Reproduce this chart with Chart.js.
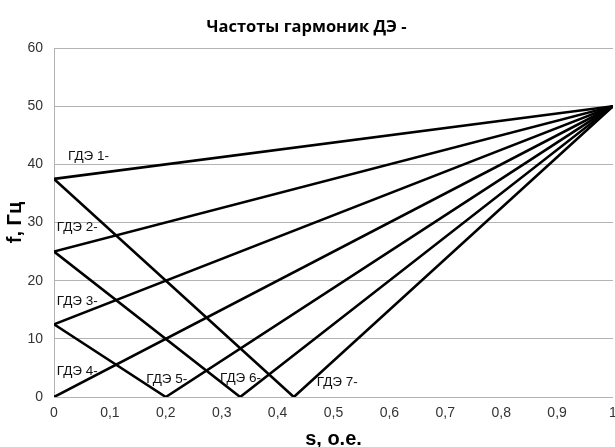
<!DOCTYPE html>
<html>
<head>
<meta charset="utf-8">
<title>Частоты гармоник ДЭ</title>
<script src="https://cdn.jsdelivr.net/npm/chart.js@4.4.1/dist/chart.umd.min.js"></script>
<style>
  body { margin: 0; background: #fff; }
  canvas { display: block; }
</style>
</head>
<body>
<canvas id="myChart" width="615" height="447"></canvas>
<script>
/* Data: slip s (o.e.) and frequency f (Hz) for each harmonic */
const seriesNames = ['ГДЭ 1-', 'ГДЭ 2-', 'ГДЭ 3-', 'ГДЭ 4-', 'ГДЭ 5-', 'ГДЭ 6-', 'ГДЭ 7-'];

const g1S = [0, 1];        const g1F = [37.5, 50];
const g2S = [0, 1];        const g2F = [25, 50];
const g3S = [0, 1];        const g3F = [12.5, 50];
const g4S = [0, 1];        const g4F = [0, 50];
const g5S = [0, 0.2, 1];   const g5F = [12.5, 0, 50];
const g6S = [0, 0.333, 1]; const g6F = [25, 0, 50];
const g7S = [0, 0.429, 1]; const g7F = [37.5, 0, 50];

// where the series names sit (data units)
const labelS = [0.025, 0.005, 0.005, 0.005, 0.165, 0.297, 0.47];
const labelF = [41.3, 29.1, 16.5, 4.5, 3.1, 3.3, 2.6];

const yTicks = [0, 10, 20, 30, 40, 50, 60];
const xTicks = [0, 0.1, 0.2, 0.3, 0.4, 0.5, 0.6, 0.7, 0.8, 0.9, 1];

const allS = [g1S, g2S, g3S, g4S, g5S, g6S, g7S];
const allF = [g1F, g2F, g3F, g4F, g5F, g6F, g7F];

const datasets = seriesNames.map(function (name, i) {
  return {
    label: name,
    data: allS[i].map(function (s, j) { return { x: s, y: allF[i][j] }; }),
    showLine: true,
    borderColor: '#000',
    backgroundColor: '#000',
    borderWidth: 2.6,
    pointRadius: 0,
    tension: 0
  };
});

// series name labels drawn inside the plot
const seriesLabels = {
  id: 'seriesLabels',
  afterDatasetsDraw(chart) {
    const ctx = chart.ctx;
    const xs = chart.scales.x;
    const ys = chart.scales.y;
    ctx.save();
    ctx.font = '13.5px "Liberation Sans", Arial, sans-serif';
    ctx.fillStyle = '#111';
    ctx.textAlign = 'left';
    ctx.textBaseline = 'middle';
    seriesNames.forEach(function (name, i) {
      ctx.fillText(name, xs.getPixelForValue(labelS[i]), ys.getPixelForValue(labelF[i]));
    });
    ctx.restore();
  }
};

const tickFont = { family: '"Liberation Sans", Arial, sans-serif', size: 14 };

const ctx = document.getElementById('myChart').getContext('2d');

// eslint-disable-next-line no-undef
const chart = new Chart(ctx, {
  type: 'scatter',
  data: { datasets: datasets },
  options: {
    responsive: false,
    animation: false,
    devicePixelRatio: 1,
    layout: { padding: { left: 0, right: 2, top: 0, bottom: 0 } },
    plugins: {
      legend: { display: false },
      tooltip: { enabled: false },
      title: {
        display: true,
        text: 'Частоты гармоник ДЭ -',
        color: '#000',
        font: { family: '"Open Sans", sans-serif', size: 16.5, weight: 'bold', lineHeight: 1.2 },
        padding: { top: 17, bottom: 11.2 }
      }
    },
    scales: {
      x: {
        type: 'linear',
        min: 0,
        max: 1,
        afterBuildTicks(scale) {
          scale.ticks = xTicks.map(function (v) { return { value: v }; });
        },
        ticks: {
          color: '#333',
          font: tickFont,
          padding: 8,
          maxRotation: 0,
          callback: function (v) { return String(Number(v.toFixed(1))).replace('.', ','); }
        },
        grid: { display: false, drawTicks: false },
        border: { display: false },
        title: {
          display: true,
          text: 's, o.e.',
          color: '#000',
          font: { family: '"Liberation Sans", Arial, sans-serif', size: 20, weight: 'bold', lineHeight: 0.8 },
          padding: 0
        },
        afterFit(scale) {
          scale.height = 50;
          scale.paddingLeft = 0;
          scale.paddingRight = 0;
        }
      },
      y: {
        type: 'linear',
        min: 0,
        max: 60,
        afterBuildTicks(scale) {
          scale.ticks = yTicks.map(function (v) { return { value: v }; });
        },
        ticks: { color: '#333', font: tickFont, padding: 11 },
        grid: { color: '#b3b3b3', lineWidth: 1, drawTicks: false },
        border: { display: true, color: '#b3b3b3', width: 1 },
        title: {
          display: true,
          text: 'f, Гц',
          color: '#000',
          font: { family: '"Liberation Sans", Arial, sans-serif', size: 20, weight: 'bold', lineHeight: 1 },
          padding: { top: 5, bottom: 0 }
        },
        afterFit(scale) { scale.width = 54; }
      }
    }
  },
  plugins: [seriesLabels]
});
</script>
</body>
</html>
